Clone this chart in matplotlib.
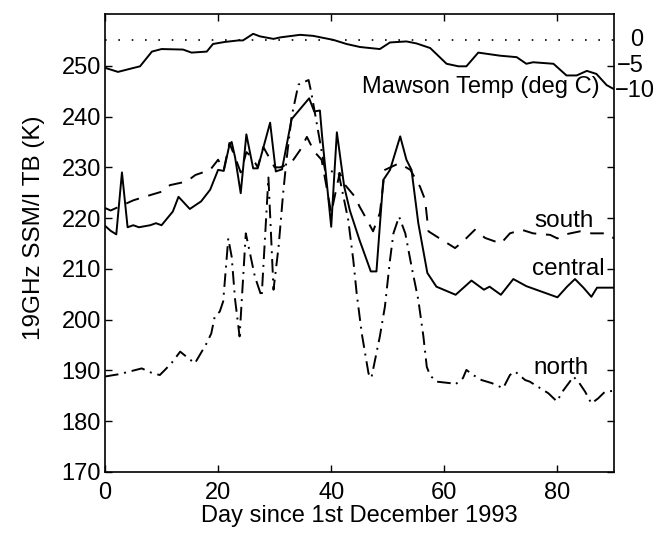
import matplotlib
matplotlib.use("Agg")
import matplotlib.pyplot as plt

plt.rcParams["font.family"] = ["Liberation Sans", "DejaVu Sans"]

# central (solid)
central_day = [0, 1, 2, 3, 4, 5, 6, 8, 9, 10, 12, 13, 15, 17, 18.6, 20, 21, 22, 22.4, 23, 24,
               25, 26.2, 27, 29.2, 30.2, 31.3, 33, 36.1, 37, 38, 38.4, 40, 41, 42.3, 43.3, 45,
               47, 48, 49.2, 50.4, 52.2, 53.3, 54.2, 55.4, 57, 58.6, 62, 64.8, 67, 68, 70,
               72.2, 74.5, 77, 80, 81.7, 83.1, 84.6, 86, 87, 90]
central_tb = [218.5, 217.5, 216.8, 229, 218.2, 218.6, 218.2, 218.6, 219, 218.6, 221.3, 224.2,
              221.8, 223.3, 225.6, 229.5, 229.3, 234.4, 235, 232, 224.9, 236.5, 229.8, 229.8,
              238.8, 229.2, 229.6, 239.5, 243.6, 241, 241.2, 236, 218.3, 236.9, 226.2, 221.5,
              215.7, 209.5, 209.5, 227.5, 229.5, 236.1, 231.5, 229.5, 219, 209.2, 206.5, 204.9,
              207.7, 205.9, 206.5, 204.9, 208, 206.6, 205.6, 204.4, 206.5, 208, 206.3, 204.5,
              206.3, 206.3]

# south (dashed)
south_day = [0, 1, 2, 5, 7, 10, 11.5, 14.4, 16, 18.6, 20, 21, 22, 23, 24, 25, 26, 27, 28, 30,
             31, 33, 34.5, 35.7, 37, 38.3, 39.2, 40, 41.5, 42.4, 44.2, 45, 46.3, 47.4, 48.6,
             49.5, 52, 54, 55.7, 56.6, 57.2, 58.6, 61.9, 63.3, 65.4, 67.2, 70, 71.6, 73.7,
             75.7, 78.7, 80, 81, 84, 86, 88.7, 90]
south_tb = [222, 221.5, 222, 223.5, 224.2, 225.2, 226.5, 227.2, 228.5, 229.5, 231.5, 229.5,
            234.8, 232, 229, 233, 232, 230, 234, 230, 230, 231, 233.4, 236, 233.1, 231.5, 226,
            221, 228.9, 226.6, 224.2, 222.3, 219.7, 217.4, 221, 229.5, 230.8, 229.5, 226.2,
            223.6, 217.4, 216.4, 214.1, 215.4, 217.7, 216.1, 215, 217, 217.7, 217, 216.7, 216,
            216.7, 217.4, 217, 217, 216]

# north (dash-dot)
north_day = [0, 2.7, 4.4, 6.5, 8.5, 9.7, 10.6, 11.8, 13.3, 14.4, 15.9, 18, 18.8, 19.4, 20.3,
             20.9, 21.8, 22.4, 23, 23.8, 24.9, 26.5, 27.7, 28.9, 29.8, 30.7, 31.5, 32.1, 33,
             34.2, 36, 36.5, 38.9, 41.3, 43, 43.9, 44.5, 45.4, 46.6, 47.1, 48.6, 49.5, 50.4,
             51, 52, 53.1, 54.2, 55.4, 56.3, 56.9, 57.5, 58.6, 61, 61.9, 63.3, 63.9, 65.1,
             66.6, 68.4, 70.4, 71.6, 72.5, 74.3, 75.1, 78.4, 79.9, 81, 82.2, 82.8, 83.7, 84.9,
             86, 87.2, 88.4, 90]
north_tb = [188.8, 189.3, 189.8, 190.4, 189.4, 189.1, 190.1, 191.5, 193.7, 192.7, 191.4, 195.4,
            197.3, 200.6, 201.6, 203.6, 216, 212.4, 204, 196.7, 217, 208.5, 204.5, 228, 205.9,
            214.4, 224.9, 231.5, 240, 246.3, 247.2, 244.6, 229.5, 228.9, 219.7, 211.8, 205.2,
            197.3, 189.4, 188.5, 196.7, 202.6, 211.8, 217, 220.3, 217, 210.5, 203.9, 196.7,
            190.7, 189, 187.8, 187.5, 187.2, 188.5, 190.1, 189.1, 188.1, 187.5, 186.5, 189.1,
            189.8, 188.1, 187.8, 185.5, 183.9, 186, 187.8, 188.8, 187.8, 185.8, 183.5, 184.5,
            185.8, 186]

# Mawson air temperature (deg C), drawn offset so 0 C sits at 255 K
temp_day = [0, 0.3, 2.3, 4.4, 6.2, 8.3, 10, 13.8, 15.3, 18, 19.1, 21.2, 23.6, 24.4, 26.2, 27.4,
            29.8, 31, 34.5, 36.8, 40.4, 42.7, 45.1, 48.6, 50.4, 53.3, 55.1, 57.5, 60.4, 62.5,
            63.9, 66, 69.8, 72.8, 74.5, 75.7, 79.3, 81.6, 83.4, 85.2, 86.9, 88.7, 90]
temp_c = [-5.3, -5.5, -6.2, -5.6, -5.1, -2.2, -1.7, -1.8, -2.4, -2.2, -0.7, -0.3, 0, 0, 1.3,
          0.8, 0.3, 0.6, 1.1, 0.9, 0.1, -0.7, -1.3, -1.7, -0.4, -0.2, -0.6, -1.5, -4.6, -5.1,
          -5.1, -2.4, -3, -3.3, -4.6, -4.3, -4.6, -6.9, -6.9, -6, -6.6, -8.8, -9.6]
temp_offset = 255
temp_ticks = [0, -5, -10]
temp_labels = ["0", "\u22125", "\u221210"]
temp_label_x = [92.8, 90.5, 90.2]

fig = plt.figure(figsize=(6.59, 5.35), dpi=100)
ax = fig.add_axes([0.1593, 0.1178, 0.7724, 0.856])

lw = 1.4
ax.plot(central_day, central_tb, color="black", lw=lw)
ax.plot(south_day, south_tb, color="black", lw=lw, linestyle=(0, (7, 5)))
ax.plot(north_day, north_tb, color="black", lw=lw, linestyle=(0, (7, 3, 1, 3)))
ax.plot(temp_day, [t + temp_offset for t in temp_c], color="black", lw=lw)
ax.axhline(temp_offset, color="black", lw=1.2, linestyle=(0, (1, 7)))

ax.set_xlim(0, 90)
ax.set_ylim(170, 260.2)
ax.set_xticks([0, 20, 40, 60, 80])
ax.set_yticks(range(170, 251, 10))
ax.tick_params(direction="in", length=5, width=1, labelsize=17, top=True, right=True)
ax.tick_params(axis="x", pad=7)
ax.tick_params(axis="y", pad=3)
for s in ax.spines.values():
    s.set_linewidth(1.2)

ax.set_xlabel("Day since 1st December 1993", fontsize=17, labelpad=1)
ax.set_ylabel("19GHz SSM/I TB (K)", fontsize=17.5)
ax.yaxis.set_label_coords(-0.118, 0.533)

for t, lab, x in zip(temp_ticks, temp_labels, temp_label_x):
    ax.text(x, t + temp_offset, lab, fontsize=17, ha="left", va="center", clip_on=False)

ax.text(87.5, 245.8, "Mawson Temp (deg C)", fontsize=17, ha="right", va="center")
ax.text(86.5, 219.5, "south", fontsize=17.5, ha="right", va="center")
ax.text(88.3, 210, "central", fontsize=17.5, ha="right", va="center")
ax.text(85.5, 190.5, "north", fontsize=17.5, ha="right", va="center")

fig.savefig("out.png", dpi=100)
